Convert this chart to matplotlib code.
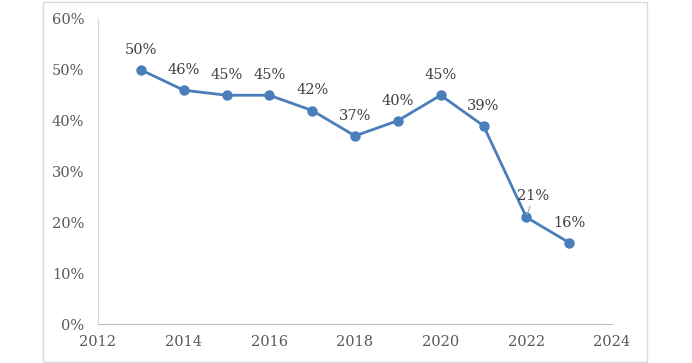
import matplotlib.pyplot as plt
from matplotlib.patches import Rectangle
from matplotlib.ticker import FuncFormatter

years = [2013, 2014, 2015, 2016, 2017, 2018, 2019, 2020, 2021, 2022, 2023]
values = [50, 46, 45, 45, 42, 37, 40, 45, 39, 21, 16]

plt.rcParams['font.family'] = ['DejaVu Serif']

fig = plt.figure(figsize=(6.92, 3.63), dpi=100)
ax = fig.add_axes([98 / 692, 1 - 324 / 363, (612 - 98) / 692, (324 - 19) / 363])

# outer chart border
fig.patches.append(Rectangle((43 / 692, 1 / 363), (647 - 43) / 692, (361 - 1) / 363,
                             transform=fig.transFigure, fill=False,
                             edgecolor='#d9d9d9', linewidth=1))

blue = '#4a7ebb'
ax.plot(years, values, color=blue, lw=2, marker='o', ms=6.5, zorder=3)

for x, y in zip(years, values):
    if x == 2022:
        # label moved off the line, with a leader line back to the point
        ax.annotate(f'{y}%', (x, y), xytext=(5, 15), textcoords='offset points',
                    ha='center', va='center', fontsize=10.5, color='#404040',
                    arrowprops=dict(arrowstyle='-', color='#a6a6a6', lw=0.8,
                                    shrinkA=0, shrinkB=2))
    else:
        ax.annotate(f'{y}%', (x, y), xytext=(0, 14.5), textcoords='offset points',
                    ha='center', va='center', fontsize=10.5, color='#404040')

ax.set_xlim(2012, 2024)
ax.set_ylim(0, 60)
ax.set_xticks(range(2012, 2025, 2))
ax.set_yticks(range(0, 61, 10))
ax.yaxis.set_major_formatter(FuncFormatter(lambda v, p: f'{int(v)}%'))
ax.tick_params(length=0, labelsize=10.5, labelcolor='#595959')
ax.tick_params(axis='y', pad=10)
ax.tick_params(axis='x', pad=8)

for s in ['top', 'right']:
    ax.spines[s].set_visible(False)
ax.spines['left'].set_color('#d9d9d9')
ax.spines['bottom'].set_color('#bfbfbf')

fig.savefig('out.png', dpi=100)
